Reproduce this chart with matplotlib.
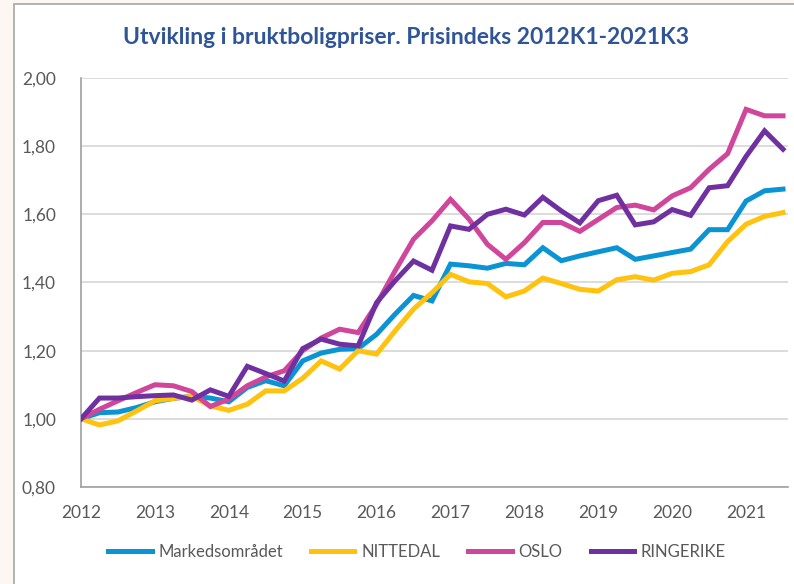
import numpy as np
import matplotlib.pyplot as plt
from matplotlib.patches import Rectangle
from matplotlib.lines import Line2D

## data ################################

quarters = [f"{y}K{q}" for y in range(2012, 2022) for q in range(1, 5)][:39]
years = [str(y) for y in range(2012, 2022)]

markedsomradet = [1.000, 1.018, 1.020, 1.033, 1.050, 1.060, 1.066, 1.061, 1.050, 1.092,
                  1.112, 1.097, 1.170, 1.193, 1.204, 1.206, 1.248, 1.307, 1.362, 1.346,
                  1.454, 1.449, 1.442, 1.456, 1.452, 1.502, 1.464, 1.478, 1.490, 1.502,
                  1.468, 1.478, 1.488, 1.498, 1.555, 1.555, 1.639, 1.669, 1.674]
nittedal = [1.000, 0.982, 0.994, 1.023, 1.053, 1.060, 1.066, 1.038, 1.025, 1.043,
            1.082, 1.082, 1.119, 1.170, 1.146, 1.200, 1.190, 1.258, 1.322, 1.370,
            1.424, 1.402, 1.397, 1.358, 1.375, 1.413, 1.397, 1.380, 1.375, 1.408,
            1.417, 1.407, 1.427, 1.432, 1.452, 1.520, 1.571, 1.594, 1.605]
oslo = [1.000, 1.028, 1.053, 1.077, 1.100, 1.097, 1.080, 1.036, 1.058, 1.097,
        1.123, 1.141, 1.200, 1.237, 1.263, 1.253, 1.336, 1.434, 1.527, 1.581,
        1.644, 1.586, 1.512, 1.468, 1.517, 1.576, 1.576, 1.550, 1.585, 1.620,
        1.627, 1.613, 1.654, 1.678, 1.732, 1.778, 1.908, 1.889, 1.889]
ringerike = [1.000, 1.061, 1.061, 1.065, 1.068, 1.070, 1.055, 1.085, 1.066, 1.154,
             1.133, 1.111, 1.206, 1.234, 1.219, 1.214, 1.341, 1.405, 1.463, 1.436,
             1.566, 1.556, 1.600, 1.615, 1.598, 1.650, 1.610, 1.575, 1.640, 1.656,
             1.569, 1.578, 1.614, 1.597, 1.678, 1.684, 1.770, 1.845, 1.791]

series = [
    ("Markedsområdet", markedsomradet, "#0b94d3"),
    ("NITTEDAL", nittedal, "#ffc20e"),
    ("OSLO", oslo, "#cf469b"),
    ("RINGERIKE", ringerike, "#7031a0"),
]

## plot ################################

plt.rcParams['font.family'] = ['Lato', 'DejaVu Sans']
text_grey = '#595959'

fig = plt.figure(figsize=(7.94, 5.84), dpi=100, facecolor='#fcf7f2')

# white chart frame
frame = Rectangle((14/794, -0.05), 1.0, 1 - 4/584 + 0.05, transform=fig.transFigure,
                  facecolor='white', edgecolor='#a6a6a6', lw=1.2, zorder=-10)
fig.patches.append(frame)

ax = fig.add_axes([81/794, 1 - 487/584, (788 - 81)/794, (487 - 78)/584])
ax.set_facecolor('white')

x = np.arange(len(quarters))
for name, vals, col in series:
    ax.plot(x, vals, color=col, lw=3.6, label=name, solid_joinstyle='miter', zorder=3)

ax.set_xlim(0, 38.27)
ax.set_ylim(0.8, 2.0)
ax.set_yticks(np.arange(0.8, 2.01, 0.2))
ax.set_yticklabels([f"{v:.2f}".replace('.', ',') for v in np.arange(0.8, 2.01, 0.2)])
ax.set_xticks(x[::4])
ax.set_xticklabels(years)
ax.tick_params(length=0, labelsize=12.5, colors=text_grey)
ax.tick_params(axis='y', pad=18)
ax.tick_params(axis='x', pad=13)

ax.grid(axis='y', color='#d9d9d9', lw=1.3, zorder=0)
for s in ['top', 'right']:
    ax.spines[s].set_visible(False)
for s in ['left', 'bottom']:
    ax.spines[s].set_color('#a0a0a0')
    ax.spines[s].set_linewidth(1.2)

fig.text(0.511, 1 - 38/584, "Utvikling i bruktboligpriser. Prisindeks 2012K1-2021K3",
         ha='center', va='center', fontsize=16.5, fontweight='bold', color='#2f5597')

handles = [Line2D([], [], color=c, lw=3.6) for _, _, c in series]
fig.legend(handles, [n for n, _, _ in series], loc='center', bbox_to_anchor=(417/794, 1 - 552/584),
           ncol=4, frameon=False, fontsize=12, labelcolor=text_grey,
           handlelength=2.6, handletextpad=0.4, columnspacing=1.7)

fig.savefig('out.png', dpi=100, facecolor=fig.get_facecolor())
